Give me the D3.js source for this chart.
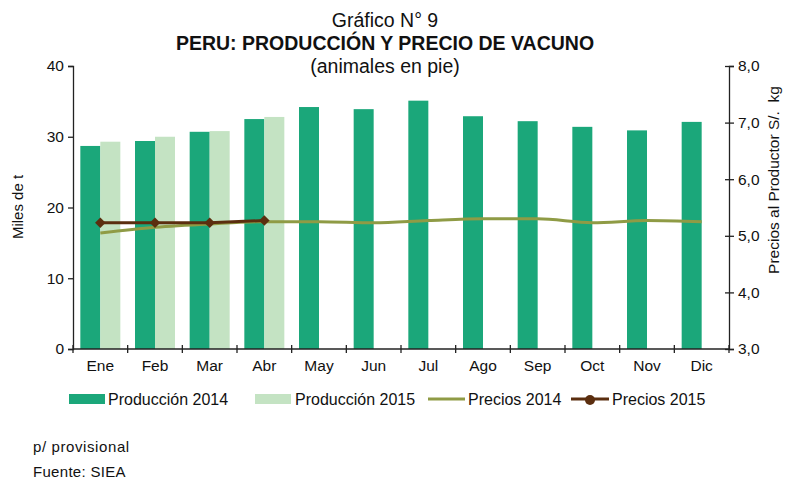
<!DOCTYPE html>
<html>
<head>
<meta charset="utf-8">
<script src="https://cdn.jsdelivr.net/npm/d3@7"></script>
<style>
  body { margin: 0; background: #fff; }
  svg text { font-family: "Liberation Sans", Arial, sans-serif; fill: #111; }
  .axis path, .axis line { stroke: #222; stroke-width: 1.3; }
  .axis text { font-size: 15.5px; }
</style>
</head>
<body>
<div id="chart"></div>
<script>
// data
const months = ["Ene", "Feb", "Mar", "Abr", "May", "Jun", "Jul", "Ago", "Sep", "Oct", "Nov", "Dic"];
const prod2014 = [28.7, 29.4, 30.7, 32.5, 34.2, 33.9, 35.1, 32.9, 32.2, 31.4, 30.9, 32.1];
const prod2015 = [29.3, 30.0, 30.8, 32.8];
const precio2014 = [5.05, 5.15, 5.21, 5.25, 5.25, 5.23, 5.27, 5.30, 5.30, 5.23, 5.27, 5.25];
const precio2015 = [5.23, 5.23, 5.23, 5.27];
const leftTicks = [0, 10, 20, 30, 40];
const rightTicks = [3, 4, 5, 6, 7, 8];

const width = 801, height = 479;
const margin = {top: 66, right: 72, bottom: 130, left: 73};
const colors = {p14: "#1ba77a", p15: "#c4e3c3", l14: "#8f9b45", l15: "#5b2e0f"};

const svg = d3.select("#chart").append("svg")
  .attr("width", width)
  .attr("height", height);

const x = d3.scaleBand()
  .domain(months)
  .range([margin.left, width - margin.right]);

const yL = d3.scaleLinear().domain([0, 40]).range([height - margin.bottom, margin.top]);
const yR = d3.scaleLinear().domain([3, 8]).range(yL.range());

const barW = 20;
const mid = d => x(d) + x.bandwidth() / 2;

// bars
svg.append("g").selectAll("rect")
  .data(prod2014)
  .join("rect")
    .attr("x", (d, i) => mid(months[i]) - barW)
    .attr("y", d => yL(d))
    .attr("width", barW)
    .attr("height", d => yL(0) - yL(d))
    .attr("fill", colors.p14);

svg.append("g").selectAll("rect")
  .data(prod2015)
  .join("rect")
    .attr("x", (d, i) => mid(months[i]))
    .attr("y", d => yL(d))
    .attr("width", barW)
    .attr("height", d => yL(0) - yL(d))
    .attr("fill", colors.p15);

// price lines
const line14 = d3.line()
  .x((d, i) => mid(months[i]))
  .y(d => yR(d))
  .curve(d3.curveMonotoneX);

svg.append("path")
  .datum(precio2014)
  .attr("d", line14)
  .attr("fill", "none")
  .attr("stroke", colors.l14)
  .attr("stroke-width", 3);

const line15 = d3.line()
  .x((d, i) => mid(months[i]))
  .y(d => yR(d));

svg.append("path")
  .datum(precio2015)
  .attr("d", line15)
  .attr("fill", "none")
  .attr("stroke", colors.l15)
  .attr("stroke-width", 3);

const diamond = d3.symbol().type(d3.symbolDiamond2).size(70);
svg.append("g").selectAll("path")
  .data(precio2015)
  .join("path")
    .attr("d", diamond)
    .attr("transform", (d, i) => "translate(" + mid(months[i]) + "," + yR(d) + ")")
    .attr("fill", colors.l15);

// axes
const y0 = yL(0);
svg.append("g")
  .attr("class", "x axis")
  .attr("transform", "translate(0," + y0 + ")")
  .call(d3.axisBottom(x).tickSize(0).tickPadding(11))
  .call(g => g.select(".domain").attr("d", "M" + margin.left + ",0H" + (width - margin.right)));

// x tick marks sit on the band edges and cross the axis
svg.append("g").selectAll("line")
  .data(d3.range(months.length + 1))
  .join("line")
    .attr("x1", i => margin.left + i * x.step())
    .attr("x2", i => margin.left + i * x.step())
    .attr("y1", y0 - 4)
    .attr("y2", y0 + 4)
    .attr("stroke", "#222")
    .attr("stroke-width", 1.3);

svg.append("g")
  .attr("class", "y axis")
  .attr("transform", "translate(" + margin.left + ",0)")
  .call(d3.axisLeft(yL).tickValues(leftTicks).tickSizeOuter(0).tickSize(5).tickPadding(4));

svg.append("g")
  .attr("class", "y2 axis")
  .attr("transform", "translate(" + (width - margin.right) + ",0)")
  .call(d3.axisRight(yR).tickValues(rightTicks).tickSizeOuter(0).tickSize(5).tickPadding(4)
    .tickFormat(d => d3.format(".1f")(d).replace(".", ",")))
  .call(g => g.selectAll(".tick line").attr("x1", -4));

// titles
const cx = 385;
svg.append("text").attr("x", cx).attr("y", 27).attr("text-anchor", "middle")
  .style("font-size", "19.5px").text("Gráfico N° 9");
svg.append("text").attr("x", cx).attr("y", 50).attr("text-anchor", "middle")
  .style("font-size", "19.5px").style("font-weight", "bold")
  .text("PERU: PRODUCCIÓN Y PRECIO DE VACUNO");
svg.append("text").attr("x", cx).attr("y", 73).attr("text-anchor", "middle")
  .style("font-size", "19.5px").text("(animales en pie)");

svg.append("text")
  .attr("transform", "translate(23,207) rotate(-90)")
  .attr("text-anchor", "middle")
  .style("font-size", "15px")
  .text("Miles de t");

svg.append("text")
  .attr("transform", "translate(779,180) rotate(-90)")
  .attr("text-anchor", "middle")
  .style("font-size", "15.5px")
  .attr("xml:space", "preserve")
  .text("Precios al Productor S/.  kg");

// legend
const ly = 399;
const legend = svg.append("g").style("font-size", "16px");
legend.append("rect").attr("x", 69).attr("y", ly - 5).attr("width", 36).attr("height", 10).attr("fill", colors.p14);
legend.append("text").attr("x", 108).attr("y", ly + 6).text("Producción 2014");
legend.append("rect").attr("x", 255).attr("y", ly - 5).attr("width", 36).attr("height", 10).attr("fill", colors.p15);
legend.append("text").attr("x", 295).attr("y", ly + 6).text("Producción 2015");
legend.append("line").attr("x1", 428).attr("x2", 465).attr("y1", ly).attr("y2", ly)
  .attr("stroke", colors.l14).attr("stroke-width", 3);
legend.append("text").attr("x", 468).attr("y", ly + 6).text("Precios 2014");
legend.append("line").attr("x1", 571).attr("x2", 609).attr("y1", ly).attr("y2", ly)
  .attr("stroke", colors.l15).attr("stroke-width", 3);
legend.append("circle").attr("cx", 590).attr("cy", ly + 1).attr("r", 5).attr("fill", colors.l15);
legend.append("text").attr("x", 612).attr("y", ly + 6).text("Precios 2015");

// footer
svg.append("text").attr("x", 33).attr("y", 452).style("font-size", "15px")
  .style("letter-spacing", "0.6px").text("p/ provisional");
svg.append("text").attr("x", 33).attr("y", 477).style("font-size", "15px")
  .style("letter-spacing", "0.3px").text("Fuente: SIEA");
</script>
</body>
</html>
